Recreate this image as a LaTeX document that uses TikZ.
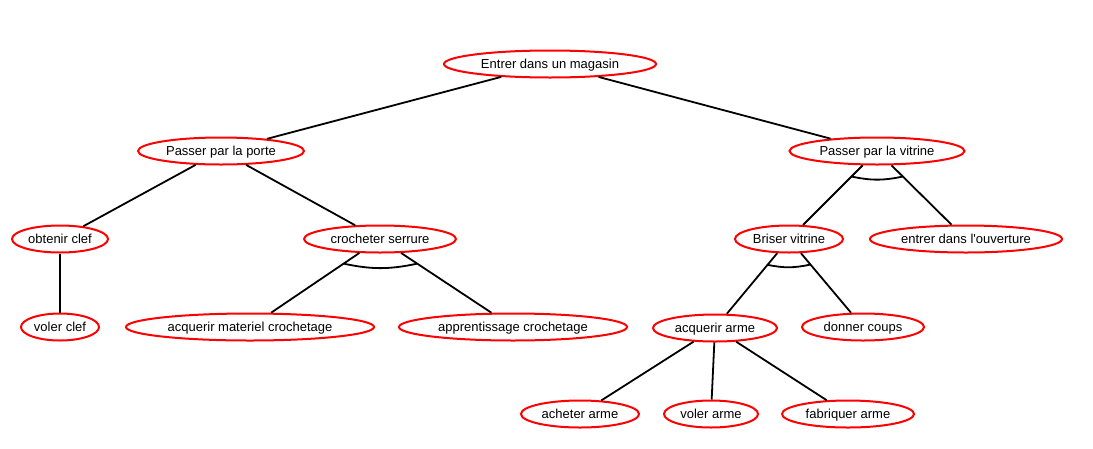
\documentclass[tikz,border=0pt]{standalone}
\usepackage{fontspec}
\setmainfont{Liberation Sans}[Ligatures=TeXOff]
\usetikzlibrary{shapes.geometric,calc}
\begin{document}
\begin{tikzpicture}[x=1pt,y=-1pt,
  goal/.style={ellipse,draw=red,line width=2pt,inner sep=0pt,minimum height=27pt,text depth=0pt,text height=9.5pt,font=\fontsize{13}{15}\selectfont},
  edge/.style={black,line width=1.8pt},
  andarc/.style={black,line width=1.8pt}]
\useasboundingbox (0,0) rectangle (1093,448);
\node[goal,minimum width=212pt] (root) at (550,64) {Entrer dans un magasin};
\node[goal,minimum width=166pt] (porte) at (221,151) {Passer par la porte};
\node[goal,minimum width=175pt] (vitrine) at (877,151) {Passer par la vitrine};
\node[goal,minimum width=96pt] (obt) at (60,239) {obtenir clef};
\node[goal,minimum width=152pt] (croch) at (380,239) {crocheter serrure};
\node[goal,minimum width=108pt] (briser) at (789,239) {Briser vitrine};
\node[goal,minimum width=192pt] (entrer) at (966,239) {entrer dans l'ouverture};
\node[goal,minimum width=78pt] (volerclef) at (60,327) {voler clef};
\node[goal,minimum width=248pt] (materiel) at (250,327) {acquerir materiel crochetage};
\node[goal,minimum width=228pt] (appr) at (513,327) {apprentissage crochetage};
\node[goal,minimum width=124pt] (acqarme) at (715,328) {acquerir arme};
\node[goal,minimum width=122pt] (coups) at (863,327) {donner coups};
\node[goal,minimum width=118pt] (acheter) at (580,414) {acheter arme};
\node[goal,minimum width=94pt] (volerarme) at (711,414) {voler arme};
\node[goal,minimum width=132pt] (fab) at (848,414) {fabriquer arme};

\draw[edge] (root) -- (porte);
\draw[edge] (root) -- (vitrine);
\draw[edge] (porte) -- (obt);
\draw[edge] (porte) -- (croch);
\draw[edge] (obt) -- (volerclef);
\draw[edge] (croch) -- (materiel);
\draw[edge] (croch) -- (appr);
\draw[edge] (vitrine) -- (briser);
\draw[edge] (vitrine) -- (entrer);
\draw[edge] (briser) -- (acqarme);
\draw[edge] (briser) -- (coups);
\draw[edge] (acqarme) -- (acheter);
\draw[edge] (acqarme) -- (volerarme);
\draw[edge] (acqarme) -- (fab);

\draw[andarc] ($(croch.center)!0.28!(materiel.center)$) to[bend right=12] ($(croch.center)!0.28!(appr.center)$);
\draw[andarc] ($(vitrine.center)!0.29!(briser.center)$) to[bend right=12] ($(vitrine.center)!0.29!(entrer.center)$);
\draw[andarc] ($(briser.center)!0.29!(acqarme.center)$) to[bend right=12] ($(briser.center)!0.29!(coups.center)$);
\end{tikzpicture}
\end{document}
